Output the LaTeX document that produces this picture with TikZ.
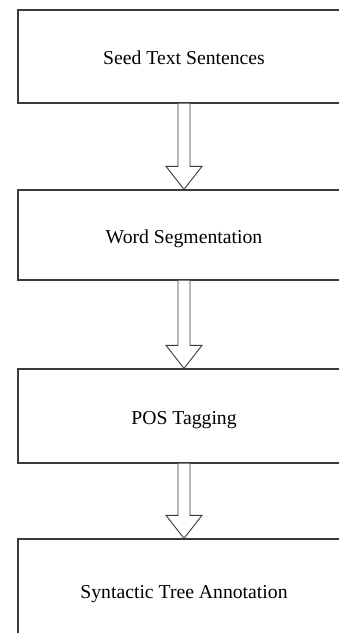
\documentclass[tikz,border=0pt]{standalone}
\usepackage{fontspec}
\setmainfont{Liberation Serif}
\usetikzlibrary{calc}
\definecolor{edge}{HTML}{3A3A3A}
\tikzset{
  stagebox/.style={draw=edge, line width=1.3pt, rectangle, minimum width=332pt, inner sep=0pt,
    text height=16.6pt, text depth=0pt,
    font=\fontsize{19.7}{24}\selectfont, text=black},
  arrowline/.style={draw=edge, line width=0.9pt, line join=miter, fill=white}
}
\newcommand\blockarrow[2]{%
  \draw[arrowline] ($(#1.south)+(-6,0)$) -- ($(#2.north)+(-6,-23)$) -- ($(#2.north)+(-18,-23)$)
    -- (#2.north) -- ($(#2.north)+(18,-23)$) -- ($(#2.north)+(6,-23)$) -- ($(#1.south)+(6,0)$);
}
\begin{document}
\begin{tikzpicture}[x=1pt,y=-1pt]
\useasboundingbox (0,0) rectangle (339,633);
\fill[white] (0,0) rectangle (339,633);
\clip (0,0) rectangle (339,633);
\node[stagebox, minimum height=93pt] (b1) at (184,56.5) {Seed Text Sentences};
\node[stagebox, minimum height=90pt] (b2) at (184,235) {Word Segmentation};
\node[stagebox, minimum height=94pt] (b3) at (184,416) {POS Tagging};
\node[stagebox, minimum height=102pt] (b4) at (184,590) {Syntactic Tree Annotation};
\blockarrow{b1}{b2}
\blockarrow{b2}{b3}
\blockarrow{b3}{b4}
\end{tikzpicture}
\end{document}
